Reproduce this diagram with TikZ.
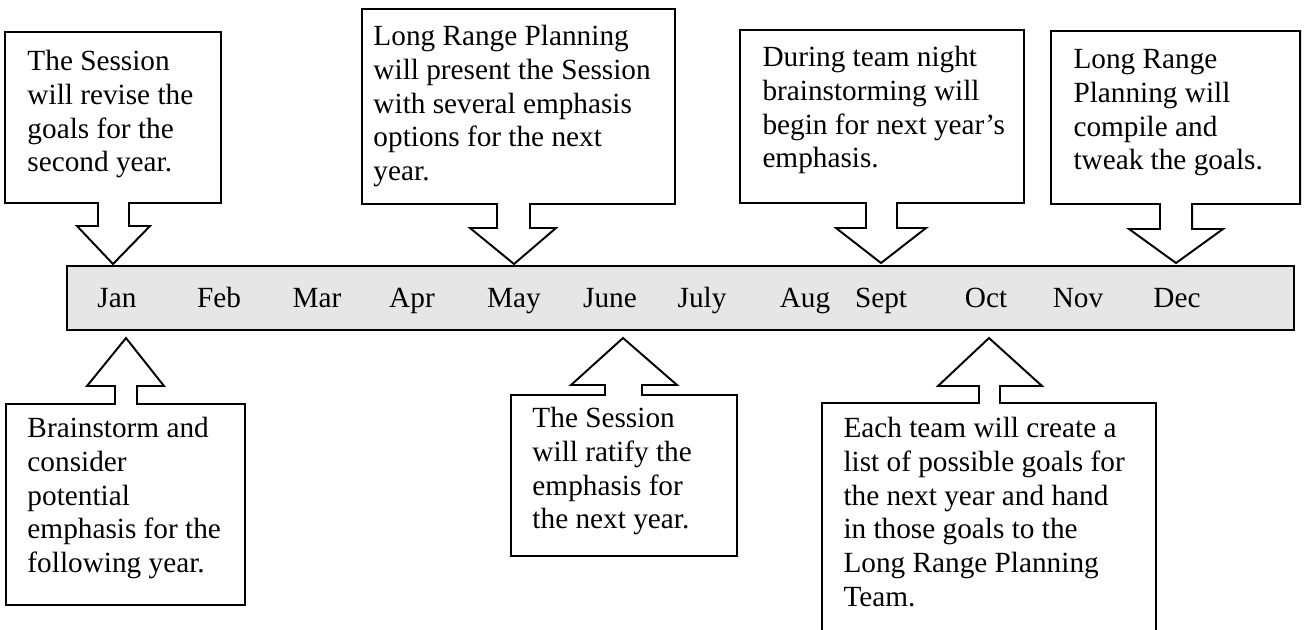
\documentclass[tikz,border=0pt]{standalone}
\usepackage{fontspec}
\setmainfont{Liberation Serif}
\definecolor{barfill}{HTML}{E6E6E6}
\tikzset{
  callout/.style={draw=black, line width=0.8pt, fill=white, line join=miter},
  timebar/.style={draw=black, line width=1pt, fill=barfill},
  month/.style={anchor=base, inner sep=0pt, font=\fontsize{12}{13.9}\selectfont},
  note/.style={anchor=north west, inner sep=0pt, align=left, font=\fontsize{12}{13.9}\selectfont},
}
\begin{document}
\begin{tikzpicture}[x=0.41pt, y=-0.41pt]
\useasboundingbox (0,0) rectangle (1306,629);
\clip (0,0) rectangle (1306,629);
\fill[white] (0,0) rectangle (1306,629);

% timeline bar
\draw[timebar] (67,266) rectangle (1294,330);
\node[month] (jan) at (117,307) {Jan};
\node[month] (feb) at (219,307) {Feb};
\node[month] (mar) at (317,307) {Mar};
\node[month] (apr) at (412,307) {Apr};
\node[month] (may) at (514,307) {May};
\node[month] (jun) at (610,307) {June};
\node[month] (jul) at (702,307) {July};
\node[month] (aug) at (805,307) {Aug};
\node[month] (sep) at (881,307) {Sept};
\node[month] (oct) at (986,307) {Oct};
\node[month] (nov) at (1078,307) {Nov};
\node[month] (dec) at (1177,307) {Dec};

% top callouts
\draw[callout] (5,32) -- (221,32) -- (221,203) -- (129,203) -- (129,226) -- (150,226)
  -- (113,264) -- (77,226) -- (98,226) -- (98,203) -- (5,203) -- cycle;
\node[note] (t1) at (27,46) {\strut The Session\\will revise the\\goals for the\\second year.};

\draw[callout] (362,9) -- (675,9) -- (675,204) -- (530,204) -- (530,228) -- (556,228)
  -- (514,264) -- (470,228) -- (497,228) -- (497,204) -- (362,204) -- cycle;
\node[note] (t2) at (373,21) {\strut Long Range Planning\\will present the Session\\with several emphasis\\options for the next\\year.};

\draw[callout] (740,30) -- (1024,30) -- (1024,203) -- (897,203) -- (897,228) -- (926,228)
  -- (881,263) -- (836,228) -- (866,228) -- (866,203) -- (740,203) -- cycle;
\node[note] (t3) at (762,42) {\strut During team night\\brainstorming will\\begin for next year’s\\emphasis.};

\draw[callout] (1051,31) -- (1300,31) -- (1300,204) -- (1192,204) -- (1192,229) -- (1223,229)
  -- (1176,263) -- (1129,229) -- (1160,229) -- (1160,204) -- (1051,204) -- cycle;
\node[note] (t4) at (1073,44) {\strut Long Range\\Planning will\\compile and\\tweak the goals.};

% bottom callouts
\draw[callout] (6,404) -- (115,404) -- (115,386) -- (87,386) -- (126,338) -- (164,386)
  -- (137,386) -- (137,404) -- (245,404) -- (245,605) -- (6,605) -- cycle;
\node[note] (b1) at (27,413) {\strut Brainstorm and\\consider\\potential\\emphasis for the\\following year.};

\draw[callout] (511,395) -- (605,395) -- (605,385) -- (571,385) -- (623,338) -- (677,385)
  -- (642,385) -- (642,395) -- (737,395) -- (737,556) -- (511,556) -- cycle;
\node[note] (b2) at (532,403) {\strut The Session\\will ratify the\\emphasis for\\the next year.};

\draw[callout] (822,403) -- (979,403) -- (979,386) -- (938,386) -- (989,338) -- (1042,386)
  -- (1000,386) -- (1000,403) -- (1156,403) -- (1156,660) -- (822,660) -- cycle;
\node[note] (b3) at (843,413) {\strut Each team will create a\\list of possible goals for\\the next year and hand\\in those goals to the\\Long Range Planning\\Team.};
\end{tikzpicture}
\end{document}
